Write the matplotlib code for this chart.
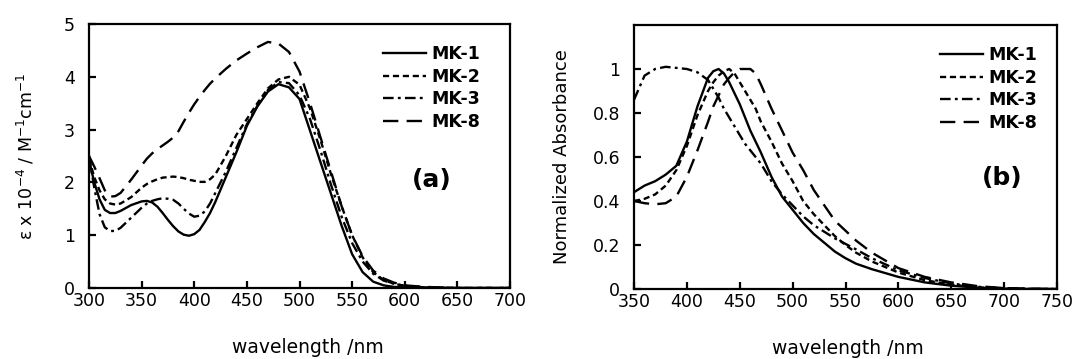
import matplotlib
matplotlib.use("Agg")
import matplotlib.pyplot as plt

# ---- data ----
names = ["MK-1", "MK-2", "MK-3", "MK-8"]

# panel (a): molar extinction coefficient (x 10^4)
wl_a = [300, 305, 310, 315, 320, 325, 330, 340, 350, 355, 360, 365, 370, 375,
        380, 385, 390, 395, 400, 405, 410, 415, 420, 430, 440, 450, 460, 470,
        480, 490, 500, 510, 520, 530, 540, 550, 560, 570, 580, 590, 600, 620,
        650, 700]
eps_mk1 = [2.42, 2.0, 1.68, 1.48, 1.42, 1.42, 1.46, 1.57, 1.64, 1.65, 1.62, 1.54,
           1.42, 1.29, 1.17, 1.07, 1.01, 0.99, 1.02, 1.1, 1.25, 1.42, 1.63, 2.1,
           2.57, 3.07, 3.44, 3.72, 3.86, 3.8, 3.58, 2.98, 2.38, 1.78, 1.18, 0.64,
           0.3, 0.12, 0.05, 0.02, 0.01, 0.0, 0.0, 0.0]
eps_mk2 = [2.45, 2.1, 1.85, 1.68, 1.6, 1.58, 1.6, 1.72, 1.9, 1.97, 2.02, 2.06,
           2.09, 2.1, 2.11, 2.1, 2.08, 2.05, 2.03, 2.01, 2.01, 2.06, 2.15, 2.5,
           2.9, 3.2, 3.5, 3.78, 3.95, 4.0, 3.85, 3.4, 2.8, 2.15, 1.55, 1.0,
           0.58, 0.3, 0.15, 0.08, 0.04, 0.01, 0.0, 0.0]
eps_mk3 = [2.5, 1.9, 1.4, 1.15, 1.08, 1.08, 1.14, 1.33, 1.52, 1.6, 1.65, 1.68,
           1.7, 1.69, 1.67, 1.6, 1.5, 1.41, 1.35, 1.37, 1.45, 1.6, 1.8, 2.2,
           2.65, 3.1, 3.45, 3.75, 3.9, 3.88, 3.65, 3.2, 2.6, 1.95, 1.35, 0.85,
           0.5, 0.27, 0.14, 0.08, 0.04, 0.01, 0.0, 0.0]
eps_mk8 = [2.5, 2.3, 2.08, 1.85, 1.73, 1.74, 1.8, 2.05, 2.32, 2.45, 2.55, 2.63,
           2.7, 2.77, 2.85, 2.97, 3.15, 3.32, 3.48, 3.62, 3.75, 3.87, 3.97, 4.15,
           4.31, 4.44, 4.56, 4.66, 4.63, 4.47, 4.1, 3.5, 2.85, 2.2, 1.55, 1.0,
           0.6, 0.33, 0.18, 0.1, 0.05, 0.02, 0.0, 0.0]

# panel (b): normalized absorbance
wl_b = [350, 360, 370, 380, 390, 400, 410, 420, 425, 430, 435, 440, 445, 450,
        455, 460, 465, 470, 480, 490, 500, 510, 520, 530, 540, 550, 560, 575,
        600, 625, 650, 675, 700, 725, 750]
abs_mk1 = [0.44, 0.47, 0.49, 0.52, 0.56, 0.67, 0.83, 0.96, 0.99, 1.0, 0.98, 0.94,
           0.89, 0.84, 0.78, 0.72, 0.67, 0.62, 0.51, 0.42, 0.36, 0.3, 0.25, 0.21,
           0.17, 0.14, 0.115, 0.09, 0.055, 0.03, 0.015, 0.006, 0.002, 0.0, 0.0]
abs_mk2 = [0.4, 0.41, 0.43, 0.47, 0.54, 0.65, 0.79, 0.9, 0.94, 0.97, 0.99, 1.0,
           0.98, 0.94, 0.9, 0.86, 0.82, 0.76, 0.67, 0.57, 0.49, 0.4, 0.34, 0.29,
           0.24, 0.2, 0.165, 0.125, 0.075, 0.04, 0.02, 0.007, 0.002, 0.0, 0.0]
abs_mk3 = [0.86, 0.97, 1.0, 1.01, 1.005, 1.0, 0.985, 0.95, 0.91, 0.87, 0.82, 0.78,
           0.74, 0.7, 0.66, 0.63, 0.6, 0.57, 0.49, 0.43, 0.38, 0.33, 0.29, 0.26,
           0.23, 0.205, 0.18, 0.14, 0.085, 0.05, 0.025, 0.01, 0.004, 0.001, 0.0]
abs_mk8 = [0.4, 0.39, 0.385, 0.39, 0.42, 0.51, 0.63, 0.76, 0.83, 0.88, 0.93, 0.96,
           0.985, 1.0, 1.0, 1.0, 0.98, 0.93, 0.82, 0.72, 0.62, 0.54, 0.45, 0.38,
           0.31, 0.265, 0.22, 0.165, 0.095, 0.055, 0.03, 0.013, 0.004, 0.001, 0.0]

xticks_a = [300, 350, 400, 450, 500, 550, 600, 650, 700]
yticks_a = [0, 1, 2, 3, 4, 5]
xticks_b = [350, 400, 450, 500, 550, 600, 650, 700, 750]
yticks_b = [0, 0.2, 0.4, 0.6, 0.8, 1.0]
ytick_labels_b = ["0", "0.2", "0.4", "0.6", "0.8", "1"]

# ---- styles ----
styles = [
    dict(linestyle="-"),
    dict(linestyle=(0, (2.6, 1.6))),
    dict(linestyle=(0, (4.5, 1.8, 1.2, 1.8))),
    dict(linestyle=(0, (6.5, 3.5))),
]
lw = 1.7

plt.rcParams["font.family"] = ["DejaVu Sans"]
plt.rcParams["mathtext.fontset"] = "dejavusans"

fig = plt.figure(figsize=(10.76, 3.59), dpi=100)
ax_a = fig.add_axes([89 / 1076, 71 / 359, 421 / 1076, 264 / 359])
ax_b = fig.add_axes([634 / 1076, 70 / 359, 423 / 1076, 264 / 359])


def style_axes(ax):
    for sp in ax.spines.values():
        sp.set_linewidth(1.6)
        sp.set_color("black")
    ax.tick_params(direction="in", length=5, width=1.6, labelsize=12.5,
                   top=False, right=False, colors="black")
    ax.tick_params(axis="y", pad=10)
    ax.tick_params(axis="x", pad=3)


legend_kw = dict(loc="upper right", frameon=False,
                 prop=dict(weight="bold", size=12.5), handlelength=2.5,
                 handletextpad=0.3, labelspacing=0.27, borderpad=0,
                 borderaxespad=0)

for vals, name, st in zip([eps_mk1, eps_mk2, eps_mk3, eps_mk8], names, styles):
    ax_a.plot(wl_a, vals, color="black", lw=lw, label=name, **st)
ax_a.set_xlim(300, 700)
ax_a.set_ylim(0, 5)
ax_a.set_xticks(xticks_a)
ax_a.set_yticks(yticks_a)
style_axes(ax_a)
ax_a.set_xlabel("wavelength /nm", fontsize=13.5)
ax_a.xaxis.set_label_coords(0.519, -0.19)
ax_a.xaxis.label.set_va("top")
ax_a.set_ylabel(r"ε x 10$^{-4}$ / M$^{-1}$cm$^{-1}$", fontsize=12.5)
ax_a.yaxis.set_label_coords(-0.125, 0.5)
ax_a.legend(bbox_to_anchor=(0.93, 0.92), **legend_kw)
ax_a.text(0.815, 0.41, "(a)", transform=ax_a.transAxes, fontsize=18,
          fontweight="bold", ha="center", va="center")

for vals, name, st in zip([abs_mk1, abs_mk2, abs_mk3, abs_mk8], names, styles):
    ax_b.plot(wl_b, vals, color="black", lw=lw, label=name, **st)
ax_b.set_xlim(350, 750)
ax_b.set_ylim(0, 1.2)
ax_b.set_xticks(xticks_b)
ax_b.set_yticks(yticks_b)
ax_b.set_yticklabels(ytick_labels_b)
style_axes(ax_b)
ax_b.set_xlabel("wavelength /nm", fontsize=13.5)
ax_b.xaxis.set_label_coords(0.506, -0.19)
ax_b.xaxis.label.set_va("top")
ax_b.set_ylabel("Normalized Absorbance", fontsize=13)
ax_b.yaxis.set_label_coords(-0.15, 0.5)
ax_b.legend(bbox_to_anchor=(0.953, 0.92), **legend_kw)
ax_b.text(0.87, 0.42, "(b)", transform=ax_b.transAxes, fontsize=18,
          fontweight="bold", ha="center", va="center")

fig.savefig("out.png", dpi=100)
